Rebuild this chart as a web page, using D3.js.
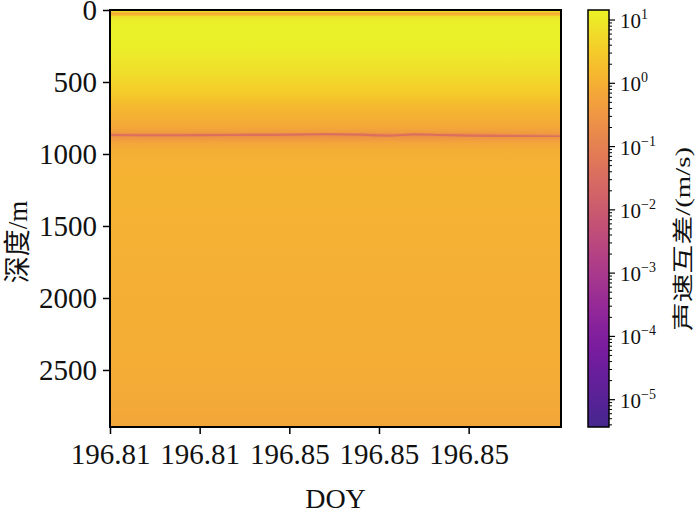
<!DOCTYPE html>
<html><head><meta charset="utf-8">
<script src="https://cdn.jsdelivr.net/npm/d3@7"></script>
<style>
body{margin:0;background:#fff;}
svg{display:block;}
text{fill:#111;}
</style></head>
<body>
<svg id="chart" width="700" height="514"></svg>
<script>
// ---- data ----
const xTickPos = [0, 1, 2, 3, 4];
const xTickLabels = ["196.81", "196.81", "196.85", "196.85", "196.85"];
const xDomain = [0, 5.03];
const yTicks = [0, 500, 1000, 1500, 2000, 2500];
const yDomain = [0, 2896];
// mean depth profile of the speed difference (m/s)
const depthLevels = [0, 12, 22, 28, 36, 46, 80, 150, 250, 320, 380, 450, 520, 580, 630, 690, 750, 810, 845, 866, 890, 915, 950, 1000, 1150, 1300, 1500, 1800, 2100, 2400, 2700, 2896];
const profileValues = [5, 4, 1.0, 0.9, 1.6, 8, 12, 13, 12.5, 10, 8, 6, 4, 3, 2.0, 1.3, 1.0, 0.7, 0.45, 0.3, 0.3, 0.55, 0.8, 1.0, 1.1, 1.1, 1.05, 1.0, 0.95, 0.85, 0.75, 0.65];
// depth of the minimum layer along time
const lineX = [0, 0.5, 1, 1.5, 2, 2.4, 2.8, 3.1, 3.4, 3.7, 4.0, 4.5, 5.03];
const lineDepth = [868, 870, 869, 867, 866, 862, 866, 872, 864, 868, 872, 876, 880];
const lineValue = 0.04;
const cbTicks = [1e-5, 1e-4, 1e-3, 1e-2, 1e-1, 1e0, 1e1];
const cbExps = [-5, -4, -3, -2, -1, 0, 1];
const cbDomain = [3.7e-6, 14.4];

// ---- layout ----
const svg = d3.select("#chart");
const L = 110, R = 561, T = 10, B = 427;
const serif = "'Liberation Serif','Times New Roman','DejaVu Serif',serif";
const cjk = "'Liberation Serif','Noto Sans CJK SC',serif";

const x = d3.scaleLinear().domain(xDomain).range([L, R]);
const y = d3.scaleLinear().domain(yDomain).range([T, B]);
const cScale = d3.scaleLog().domain(cbDomain).range([0, 1]).clamp(true);
// plasma colormap, slightly muted as in the printed figure
const cmap = t => d3.interpolateRgb(d3.interpolatePlasma(0.06 + 0.94 * t), "#7a7a7a")(0.05 + 0.24 * Math.pow(1 - t, 1.5));
const color = v => cmap(cScale(v));

const defs = svg.append("defs");
// heatmap gradient (vertical)
const grad = defs.append("linearGradient").attr("id", "heat")
  .attr("gradientUnits", "userSpaceOnUse")
  .attr("x1", 0).attr("x2", 0).attr("y1", y(yDomain[0])).attr("y2", y(yDomain[1]));
depthLevels.forEach((d, i) => {
  grad.append("stop").attr("offset", (y(d) - T) / (B - T)).attr("stop-color", color(profileValues[i]));
});
defs.append("filter").attr("id", "blur").append("feGaussianBlur").attr("stdDeviation", 0.6);

svg.append("rect").attr("x", L).attr("y", T).attr("width", R - L).attr("height", B - T).attr("fill", "url(#heat)");

// minimum layer line
const line = d3.line().x((d, i) => x(lineX[i])).y(d => y(d)).curve(d3.curveMonotoneX);
svg.append("path").datum(lineDepth).attr("d", line).attr("fill", "none")
  .attr("stroke", color(lineValue * 4)).attr("stroke-width", 5).attr("opacity", 0.5).attr("filter", "url(#blur)");
svg.append("path").datum(lineDepth).attr("d", line).attr("fill", "none")
  .attr("stroke", color(lineValue)).attr("stroke-width", 2.2).attr("filter", "url(#blur)");

// frame
svg.append("rect").attr("x", L).attr("y", T).attr("width", R - L).attr("height", B - T)
  .attr("fill", "none").attr("stroke", "#000").attr("stroke-width", 2);

// x axis
const xAxis = d3.axisBottom(x).tickValues(xTickPos).tickFormat((d, i) => xTickLabels[i]).tickSize(7).tickPadding(8);
const gx = svg.append("g").attr("transform", `translate(0,${B})`).call(xAxis);
gx.select(".domain").remove();
gx.selectAll("line").attr("stroke", "#000").attr("stroke-width", 1.5);
gx.selectAll("text").attr("font-family", serif).attr("font-size", 29).attr("fill", "#111").attr("dy", "0.75em");

// y axis
const yAxis = d3.axisLeft(y).tickValues(yTicks).tickSize(7).tickPadding(6).tickFormat(d3.format("d"));
const gy = svg.append("g").attr("transform", `translate(${L},0)`).call(yAxis);
gy.select(".domain").remove();
gy.selectAll("line").attr("stroke", "#000").attr("stroke-width", 1.5);
gy.selectAll("text").attr("font-family", serif).attr("font-size", 29).attr("fill", "#111").attr("dy", "0.34em");

// axis titles
svg.append("text").attr("x", (L + R) / 2).attr("y", 508).attr("text-anchor", "middle")
  .attr("font-family", serif).attr("font-size", 28).text("DOY");
svg.append("text").attr("transform", "translate(27,242) rotate(-90)").attr("text-anchor", "middle")
  .attr("font-family", cjk).attr("font-size", 27).text("深度/m");

// colorbar
const CL = 588, CR = 609;
const cy = d3.scaleLog().domain(cbDomain).range([B, T]);
const cgrad = defs.append("linearGradient").attr("id", "cb").attr("x1", 0).attr("x2", 0).attr("y1", 1).attr("y2", 0);
d3.range(0, 1.0001, 0.05).forEach(t => cgrad.append("stop").attr("offset", t).attr("stop-color", cmap(t)));
svg.append("rect").attr("x", CL).attr("y", T).attr("width", CR - CL).attr("height", B - T)
  .attr("fill", "url(#cb)").attr("stroke", "#000").attr("stroke-width", 1.5);

// minor ticks
const minor = [];
for (let e = -6; e <= 1; e++) for (let m = 2; m <= 9; m++) { const v = m * Math.pow(10, e); if (v >= cbDomain[0] && v <= cbDomain[1]) minor.push(v); }
svg.append("g").selectAll("line").data(minor).join("line")
  .attr("x1", CR).attr("x2", CR + 3).attr("y1", d => cy(d)).attr("y2", d => cy(d)).attr("stroke", "#000").attr("stroke-width", 1);
svg.append("g").selectAll("line").data(cbTicks).join("line")
  .attr("x1", CR).attr("x2", CR + 6).attr("y1", d => cy(d)).attr("y2", d => cy(d)).attr("stroke", "#000").attr("stroke-width", 1.2);
const cbl = svg.append("g").selectAll("text").data(cbTicks).join("text")
  .attr("x", 620).attr("y", d => cy(d) + 8).attr("font-family", serif).attr("font-size", 21);
cbl.append("tspan").text("10");
cbl.append("tspan").attr("dy", -9).attr("font-size", 14).text((d, i) => cbExps[i] < 0 ? "\u2212" + (-cbExps[i]) : cbExps[i]);

svg.append("text").attr("transform", "translate(690,239) rotate(-90)").attr("text-anchor", "middle")
  .attr("font-family", cjk).attr("font-size", 21).attr("textLength", 184).attr("lengthAdjust", "spacingAndGlyphs")
  .text("声速互差/(m/s)");
</script>
</body></html>
